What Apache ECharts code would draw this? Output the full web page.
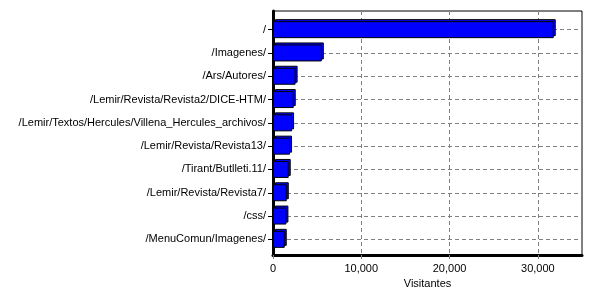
<!DOCTYPE html>
<html><head><meta charset="utf-8">
<script src="https://cdn.jsdelivr.net/npm/echarts@6/dist/echarts.min.js"></script>
<style>html,body{margin:0;padding:0;background:#fff}#c{width:600px;height:300px}</style>
</head><body><div id="c"></div>
<script>
const categories = ["/", "/Imagenes/", "/Ars/Autores/", "/Lemir/Revista/Revista2/DICE-HTM/",
  "/Lemir/Textos/Hercules/Villena_Hercules_archivos/", "/Lemir/Revista/Revista13/",
  "/Tirant/Butlleti.11/", "/Lemir/Revista/Revista7/", "/css/", "/MenuComun/Imagenes/"];
const visitantes = [31800, 5530, 2560, 2350, 2160, 1930, 1780, 1560, 1520, 1330];
const axisName = "Visitantes";
const xMax = 35000, xStep = 10000;

const font = "Liberation Sans";
const dash = {color:'#808080', type:[4,3], width:1};
const chart = echarts.init(document.getElementById('c'), null, {renderer: 'canvas'});
const hiddenX = (g) => ({type:'value', gridIndex:g, min:0, max:xMax, interval:xStep, show:false});
const hiddenY = (g) => ({type:'category', gridIndex:g, data:categories, inverse:true, show:false});
chart.setOption({
  animation: false,
  grid: [
    {left:273, right:18, top:11, bottom:45, show:true, borderColor:'#000', borderWidth:1, backgroundColor:'transparent'},
    {left:273, right:18, top:18, bottom:49},
    {left:275, right:16, top:16, bottom:51}
  ],
  xAxis: [
    {type:'value', gridIndex:0, min:0, max:xMax, interval:xStep,
     axisLine:{show:true, lineStyle:{color:'#000', width:3}},
     axisTick:{show:true, length:4, lineStyle:{color:'#808080'}},
     axisLabel:{color:'#000', fontFamily:font, fontSize:11, margin:8, showMaxLabel:false},
     splitLine:{show:true, lineStyle:dash},
     name:axisName, nameLocation:'middle', nameGap:22,
     nameTextStyle:{color:'#000', fontFamily:font, fontSize:11}},
    hiddenX(1), hiddenX(2)
  ],
  yAxis: [
    {type:'value', gridIndex:0, min:0, max:1, show:true,
     axisLine:{show:true, lineStyle:{color:'#000', width:3}},
     axisTick:{show:false}, axisLabel:{show:false}, splitLine:{show:false}},
    {type:'category', gridIndex:1, data:categories, inverse:true,
     axisLine:{show:false},
     axisTick:{show:true, alignWithLabel:true, length:5, lineStyle:{color:'#000'}},
     axisLabel:{color:'#000', fontFamily:font, fontSize:11, margin:7},
     splitLine:{show:true, alignWithLabel:true, lineStyle:dash}},
    hiddenY(2)
  ],
  series: [
    {type:'bar', xAxisIndex:2, yAxisIndex:2, data:visitantes, barWidth:17, z:2,
     itemStyle:{color:'#0000ff', borderColor:'#000', borderWidth:1}},
    {type:'bar', xAxisIndex:1, yAxisIndex:1, data:visitantes, barWidth:17, z:3,
     itemStyle:{color:'#0000ff', borderColor:'#000', borderWidth:1}}
  ]
});
</script></body></html>
